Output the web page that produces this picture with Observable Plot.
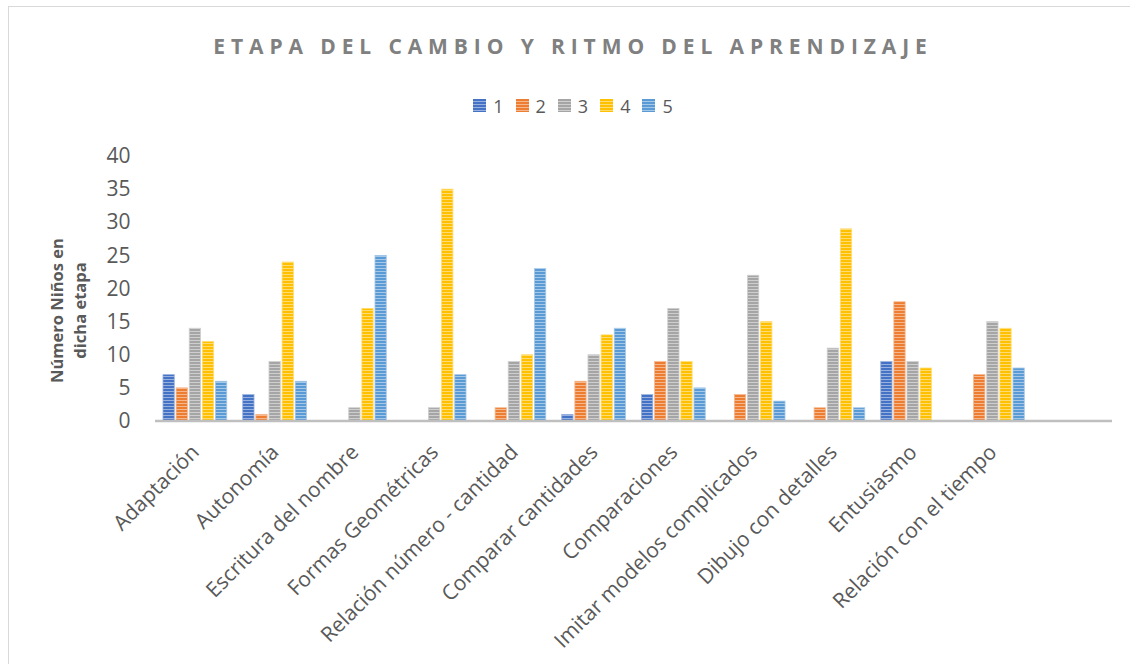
<!DOCTYPE html>
<html>
<head>
<meta charset="utf-8">
<script src="https://cdn.jsdelivr.net/npm/d3@7"></script>
<script src="https://cdn.jsdelivr.net/npm/@observablehq/plot@0.6"></script>
<style>
  html, body { margin: 0; padding: 0; overflow: hidden; background: #fff; }
  body { font-family: "Open Sans", sans-serif; width: 1130px; height: 664px; position: relative; }
  #frame { position: absolute; left: 8px; top: 6px; width: 1160px; height: 700px; border: 1px solid #d9d9d9; box-sizing: border-box; pointer-events: none; }
  #title { position: relative; height: 80px; box-sizing: border-box; padding-top: 36px; padding-left: 16px; text-align: center;
           font-size: 21px; line-height: 21px; font-weight: 700; letter-spacing: 5.9px; color: #808080; white-space: nowrap; }
  #legend { position: relative; height: 45px; box-sizing: border-box; padding-top: 6px; padding-left: 16px; display: flex; justify-content: center;
            font-size: 18px; line-height: 18px; color: #595959; }
  .item { display: flex; align-items: center; margin: 0 6px; }
  .item svg { margin-right: 7px; }
  #chart { display: block; position: relative; }
</style>
</head>
<body>
<div id="frame"></div>
<div id="title"></div>
<div id="legend"></div>
<div id="chart"></div>
<script>
// ---- data ----
const categories = ["Adaptación", "Autonomía", "Escritura del nombre", "Formas Geométricas",
  "Relación número - cantidad", "Comparar cantidades", "Comparaciones",
  "Imitar modelos complicados", "Dibujo con detalles", "Entusiasmo", "Relación con el tiempo"];
const seriesNames = ["1", "2", "3", "4", "5"];
const serie1 = [7, 4, 0, 0, 0, 1, 4, 0, 0, 9, 0];
const serie2 = [5, 1, 0, 0, 2, 6, 9, 4, 2, 18, 7];
const serie3 = [14, 9, 2, 2, 9, 10, 17, 22, 11, 9, 15];
const serie4 = [12, 24, 17, 35, 10, 13, 9, 15, 29, 8, 14];
const serie5 = [6, 6, 25, 7, 23, 14, 5, 3, 2, 0, 8];
const yTicks = [0, 5, 10, 15, 20, 25, 30, 35, 40];
const yTitle = ["Número Niños en", "dicha etapa"];
const chartTitle = "ETAPA DEL CAMBIO Y RITMO DEL APRENDIZAJE";

// ---- styles ----
const baseColors = ["#4472C4", "#ED7D31", "#A5A5A5", "#FFC000", "#5B9BD5"];
const lightColors = baseColors.map(c => d3.interpolateRgb(c, "#ffffff")(0.45));

const allSeries = [serie1, serie2, serie3, serie4, serie5];
const rows = [];
allSeries.forEach((vals, si) => vals.forEach((v, ci) => rows.push({cat: categories[ci], serie: seriesNames[si], value: v})));

document.getElementById("title").textContent = chartTitle;

function addPatterns(sel, prefix) {
  const defs = sel.insert("defs", ":first-child");
  baseColors.forEach((c, i) => {
    const p = defs.append("pattern").attr("id", prefix + i).attr("patternUnits", "userSpaceOnUse")
      .attr("width", 4).attr("height", 3);
    p.append("rect").attr("width", 4).attr("height", 3).attr("fill", c);
    p.append("rect").attr("y", 2).attr("width", 4).attr("height", 1).attr("fill", lightColors[i]);
  });
}

// legend
const legend = d3.select("#legend");
seriesNames.forEach((s, i) => {
  const it = legend.append("div").attr("class", "item");
  const sw = it.append("svg").attr("width", 13).attr("height", 13);
  addPatterns(sw, "lg" + i + "_");
  sw.append("rect").attr("width", 13).attr("height", 13).attr("fill", `url(#lg${i}_${i})`);
  it.append("span").text(s);
});

const fxDomain = [...categories, ""];

const marks = seriesNames.map((s, i) =>
  Plot.barY(rows.filter(d => d.serie === s && d.value > 0), {
    fx: "cat", x: "serie", y: "value",
    fill: `url(#pat${i})`, stroke: lightColors[i], strokeWidth: 0.8,
    insetLeft: 0, insetRight: 0
  })
);
marks.push(Plot.text(categories, {
  fx: d => d, text: d => d, frameAnchor: "bottom", rotate: -45,
  textAnchor: "end", lineAnchor: "bottom", dx: 5, dy: 32,
  fontSize: 21, fill: "#595959"
}));

const svg = Plot.plot({
  width: 1130,
  height: 539,
  marginTop: 31,
  marginBottom: 243,
  marginLeft: 155,
  marginRight: 18,
  style: {fontFamily: "Open Sans", fontSize: "21px", color: "#595959", background: "transparent", overflow: "visible"},
  fx: {domain: fxDomain, paddingInner: 0.2, paddingOuter: 0.1, round: false, axis: null, label: null},
  x: {domain: seriesNames, paddingInner: 0.14, paddingOuter: 0, round: false, axis: null},
  y: {domain: [0, 40], ticks: yTicks, tickSize: 0, tickPadding: 33, label: null},
  marks
});
const root = d3.select(svg);
addPatterns(root, "pat");

// baseline across the full category axis
const y0 = svg.scale("y").apply(0);
root.append("line")
  .attr("x1", 155).attr("x2", 1130 - 18)
  .attr("y1", y0).attr("y2", y0)
  .attr("stroke", "#BFBFBF").attr("stroke-width", 2.6);

// y axis title
const yt = root.append("text")
  .attr("transform", `translate(63,${(svg.scale("y").apply(0) + svg.scale("y").apply(40)) / 2 + 22}) rotate(-90)`)
  .attr("text-anchor", "middle")
  .attr("font-weight", 700).attr("font-size", 16.5).attr("fill", "#595959");
yTitle.forEach((t, i) => yt.append("tspan").attr("x", 0).attr("dy", i === 0 ? 0 : 23).text(t));

document.getElementById("chart").appendChild(svg);
</script>
</body>
</html>
